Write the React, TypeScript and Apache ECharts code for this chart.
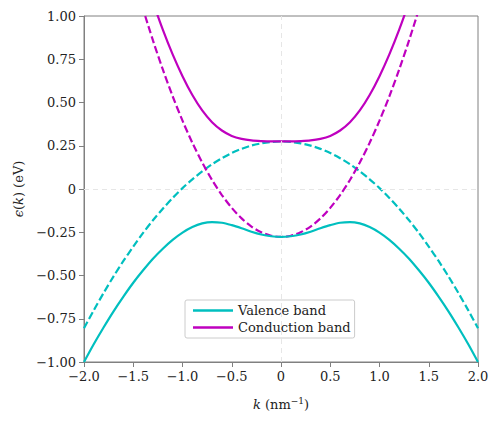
import React, { useEffect, useRef } from "react";
import * as echarts from "echarts";

const kFull = [-2.0, -1.9, -1.8, -1.7, -1.6, -1.5, -1.4, -1.3, -1.2, -1.1, -1.0, -0.9, -0.8, -0.7, -0.6, -0.5, -0.4, -0.3, -0.2, -0.1, 0.0, 0.1, 0.2, 0.3, 0.4, 0.5, 0.6, 0.7, 0.8, 0.9, 1.0, 1.1, 1.2, 1.3, 1.4, 1.5, 1.6, 1.7, 1.8, 1.9, 2.0];
const kInner = [-1.5, -1.4, -1.3, -1.2, -1.1, -1.0, -0.9, -0.8, -0.7, -0.6, -0.5, -0.4, -0.3, -0.2, -0.1, 0.0, 0.1, 0.2, 0.3, 0.4, 0.5, 0.6, 0.7, 0.8, 0.9, 1.0, 1.1, 1.2, 1.3, 1.4, 1.5];

const valenceBand = [-1.000, -0.896, -0.799, -0.707, -0.622, -0.542, -0.470, -0.403, -0.345, -0.294, -0.252, -0.220, -0.199, -0.191, -0.195, -0.209, -0.227, -0.247, -0.263, -0.273, -0.277, -0.273, -0.263, -0.247, -0.227, -0.209, -0.195, -0.191, -0.199, -0.220, -0.252, -0.294, -0.345, -0.403, -0.470, -0.542, -0.622, -0.707, -0.799, -0.896, -1.000];
const valenceBare = [-0.805, -0.700, -0.600, -0.505, -0.416, -0.333, -0.254, -0.181, -0.114, -0.052, 0.005, 0.056, 0.102, 0.143, 0.178, 0.208, 0.232, 0.251, 0.264, 0.272, 0.275, 0.272, 0.264, 0.251, 0.232, 0.208, 0.178, 0.143, 0.102, 0.056, 0.005, -0.052, -0.114, -0.181, -0.254, -0.333, -0.416, -0.505, -0.600, -0.700, -0.805];
const conductionBand = [1.445, 1.255, 1.081, 0.921, 0.778, 0.652, 0.543, 0.454, 0.386, 0.338, 0.307, 0.290, 0.281, 0.277, 0.275, 0.275, 0.275, 0.277, 0.281, 0.290, 0.307, 0.338, 0.386, 0.454, 0.543, 0.652, 0.778, 0.921, 1.081, 1.255, 1.445];
const conductionBare = [1.235, 1.040, 0.859, 0.691, 0.536, 0.395, 0.267, 0.153, 0.052, -0.035, -0.109, -0.170, -0.217, -0.250, -0.270, -0.277, -0.270, -0.250, -0.217, -0.170, -0.109, -0.035, 0.052, 0.153, 0.267, 0.395, 0.536, 0.691, 0.859, 1.040, 1.235];

const xTicks = { min: -2, max: 2, interval: 0.5 };
const yTicks = { min: -1, max: 1, interval: 0.25 };

const CYAN = "#00bfbf";
const MAGENTA = "#bf00bf";
const FONT = "DejaVu Serif";
const AXIS_COLOR = "#808080";

const fmt = (digits: number) => (v: number) => {
  if (Math.abs(v) < 1e-9) return "0";
  return (v < 0 ? "\u2212" : "") + Math.abs(v).toFixed(digits);
};

export default function App() {
  const ref = useRef<HTMLDivElement>(null);
  useEffect(() => {
    document.body.style.margin = "0";
    if (!ref.current) return;
    const chart = echarts.init(ref.current, undefined, { renderer: "svg" });
    const pair = (ks: number[], vs: number[]) => ks.map((k, i) => [k, vs[i]]);
    const dash = [7.4, 3.2];
    chart.setOption({
      animation: false,
      backgroundColor: "#ffffff",
      grid: {
        left: 84,
        right: 20,
        top: 16,
        bottom: 62,
        show: true,
        borderColor: AXIS_COLOR,
        borderWidth: 1,
        backgroundColor: "transparent",
      },
      legend: {
        orient: "vertical",
        left: 185,
        top: 300,
        icon: "rect",
        data: ["Valence band", "Conduction band"],
        backgroundColor: "#ffffff",
        borderColor: "#cccccc",
        borderWidth: 1,
        borderRadius: 2,
        padding: [3, 4, 3, 8],
        itemGap: 2,
        itemWidth: 40,
        itemHeight: 2.5,
        textStyle: { fontFamily: FONT, fontSize: 13, color: "#222", lineHeight: 15 },
      },
      xAxis: {
        type: "value",
        min: xTicks.min,
        max: xTicks.max,
        interval: xTicks.interval,
        name: "{i|k} (nm{s|\u22121})",
        nameLocation: "middle",
        nameGap: 34,
        nameTextStyle: {
          fontFamily: FONT,
          fontSize: 13,
          color: "#222",
          rich: {
            i: { fontFamily: FONT, fontStyle: "italic", fontSize: 13, color: "#222" },
            s: { fontFamily: FONT, fontSize: 9, color: "#222", verticalAlign: "top", padding: [0, 0, 8, 0] },
          },
        },
        axisLine: { show: true, onZero: false, lineStyle: { color: AXIS_COLOR, width: 1 } },
        axisTick: { show: true, inside: false, length: 5, lineStyle: { color: AXIS_COLOR } },
        axisLabel: { formatter: fmt(1), fontFamily: FONT, fontSize: 13, color: "#222", margin: 8 },
        splitLine: { show: false },
      },
      yAxis: {
        type: "value",
        min: yTicks.min,
        max: yTicks.max,
        interval: yTicks.interval,
        name: "{i|\u03f5}({i|k}) (eV)",
        nameLocation: "middle",
        nameGap: 55,
        nameRotate: 90,
        nameTextStyle: {
          fontFamily: FONT,
          fontSize: 13,
          color: "#222",
          rich: {
            i: { fontFamily: FONT, fontStyle: "italic", fontSize: 13, color: "#222" },
          },
        },
        axisLine: { show: true, onZero: false, lineStyle: { color: AXIS_COLOR, width: 1 } },
        axisTick: { show: true, inside: false, length: 5, lineStyle: { color: AXIS_COLOR } },
        axisLabel: { formatter: fmt(2), fontFamily: FONT, fontSize: 13, color: "#222", margin: 8 },
        splitLine: { show: false },
      },
      series: [
        {
          name: "zero",
          type: "line",
          data: [],
          silent: true,
          markLine: {
            silent: true,
            symbol: "none",
            label: { show: false },
            lineStyle: { color: "#e6e6e6", type: [5, 4], width: 1 },
            data: [{ xAxis: 0 }, { yAxis: 0 }],
          },
        },
        {
          name: "Valence bare",
          type: "line",
          data: pair(kFull, valenceBare),
          showSymbol: false,
          symbol: "none",
          smooth: 0.3,
          lineStyle: { color: CYAN, width: 2.2, type: dash },
          itemStyle: { color: CYAN },
        },
        {
          name: "Conduction bare",
          type: "line",
          data: pair(kInner, conductionBare),
          showSymbol: false,
          symbol: "none",
          smooth: 0.3,
          lineStyle: { color: MAGENTA, width: 2.2, type: dash },
          itemStyle: { color: MAGENTA },
        },
        {
          name: "Valence band",
          type: "line",
          data: pair(kFull, valenceBand),
          showSymbol: false,
          symbol: "none",
          smooth: 0.3,
          lineStyle: { color: CYAN, width: 2.2 },
          itemStyle: { color: CYAN },
        },
        {
          name: "Conduction band",
          type: "line",
          data: pair(kInner, conductionBand),
          showSymbol: false,
          symbol: "none",
          smooth: 0.3,
          lineStyle: { color: MAGENTA, width: 2.2 },
          itemStyle: { color: MAGENTA },
        },
      ],
    });
    return () => chart.dispose();
  }, []);
  return <div ref={ref} style={{ width: 498, height: 424 }} />;
}
